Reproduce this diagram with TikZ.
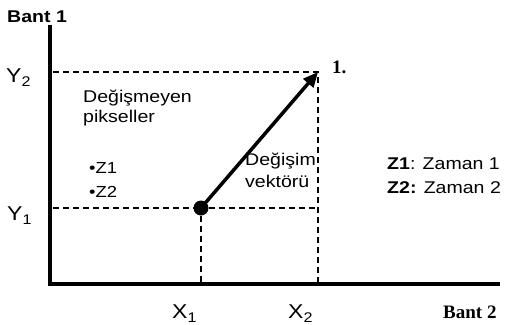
\documentclass[tikz,border=0pt]{standalone}
\usepackage{fontspec}
\setmainfont{Liberation Sans}[FakeStretch=1.15]
\newfontfamily\serifb{Liberation Serif}
\usetikzlibrary{arrows.meta}
\newcommand{\sbs}[1]{\raisebox{-4pt}{\fontsize{14}{14}\selectfont #1}}
\tikzset{
  axis/.style={line width=4.5pt},
  guide/.style={line width=1.3pt, dash pattern=on 6pt off 4pt},
  lbl/.style={inner sep=0pt, anchor=base west, font=\fontsize{17}{20}\selectfont},
  coordlbl/.style={inner sep=0pt, anchor=base west, font=\fontsize{20}{22}\selectfont},
  serifbold/.style={inner sep=0pt, anchor=base west, font=\serifb\fontsize{19}{21}\selectfont\bfseries},
}
\begin{document}
\begin{tikzpicture}[x=1pt,y=-1pt]
\useasboundingbox (0,0) rectangle (524,324);
\coordinate (ytop) at (50,25);
\coordinate (O) at (50,284);
\coordinate (xend) at (500,284);
\coordinate (y2a) at (53,72);
\coordinate (y1a) at (53,208);
\coordinate (x1a) at (201,284);
\coordinate (x2a) at (318,284);
\coordinate (x2y1) at (318,208);
\node[circle, fill, inner sep=0pt, minimum size=15pt] (p1) at (201,208) {};
\coordinate (p2) at (318,72);
\draw[guide] (y2a) -- (p2) -- (x2a);
\draw[guide] (y1a) -- (p1) -- (x2y1);
\draw[guide] (p1) -- (x1a);
\draw[axis] (ytop) -- (O) -- (xend);
\draw[line width=3.5pt, -{Triangle[length=15pt,width=13pt]}] (p1.center) -- (p2);
\node[lbl, font=\fontsize{17}{20}\selectfont\bfseries] (b1) at (7,22) {Bant 1};
\node[serifbold] (b2) at (443,318) {Bant 2};
\node[serifbold] (one) at (332,73) {1.};
\node[coordlbl] (y2) at (6,82) {Y\sbs{2}};
\node[coordlbl] (y1) at (7,220) {Y\sbs{1}};
\node[coordlbl] (x1) at (172,318) {X\sbs{1}};
\node[coordlbl] (x2) at (288,318) {X\sbs{2}};
\node[lbl] (dm1) at (83,102) {Değişmeyen};
\node[lbl] (dm2) at (83,122) {pikseller};
\node[lbl, font=\fontsize{16}{18}\selectfont] (z1) at (89,173) {•Z1};
\node[lbl, font=\fontsize{16}{18}\selectfont] (z2) at (89,197) {•Z2};
\node[lbl] (dv1) at (245,165) {Değişim};
\node[lbl] (dv2) at (245,187) {vektörü};
\node[lbl] (za1) at (387,169) {\textbf{Z1}: Zaman 1};
\node[lbl] (za2) at (387,193) {\textbf{Z2:} Zaman 2};
\end{tikzpicture}
\end{document}
